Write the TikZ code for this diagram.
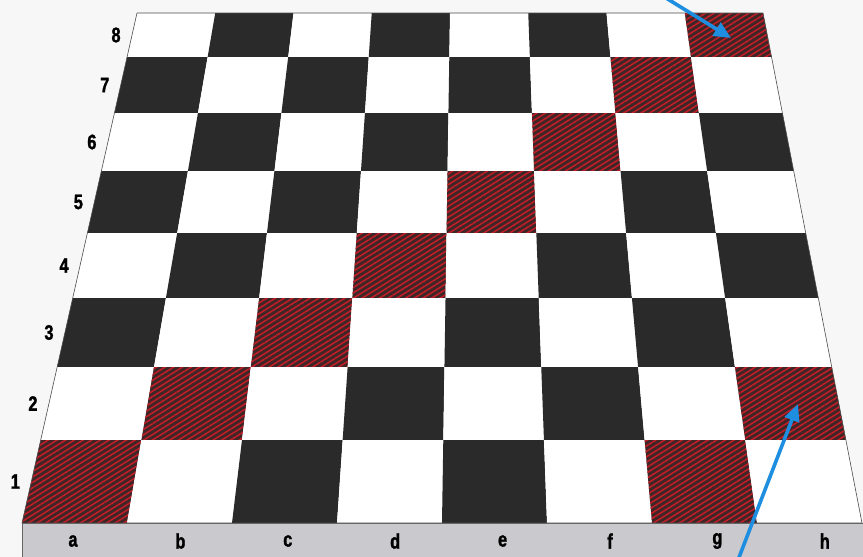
\documentclass[tikz,border=0pt]{standalone}
\usepackage{fontspec}
\newfontfamily\boardfont{Liberation Sans Bold}[FakeStretch=0.78, FakeBold=1.4]
\usetikzlibrary{arrows.meta, patterns.meta}

\definecolor{boarddark}{HTML}{2A2A2A}
\definecolor{boardred}{HTML}{C01E28}
\definecolor{pointblue}{HTML}{1E8FE0}
\definecolor{stripgray}{HTML}{C9C9CE}

% rank boundaries (top to bottom) of the board in perspective
\def\rowlist{{13,57,113,171,233,298,367,440,523}}

\begin{document}
\begin{tikzpicture}[
    x=1pt, y=-1pt,
    font=\boardfont\fontsize{21}{21}\selectfont,
    lightsq/.style={fill=white},
    darksq/.style={fill=boarddark},
    hotsq/.style={fill=boarddark!90!red,
        postaction={pattern={Lines[angle=32, distance=4.6pt, line width=1.6pt]},
                    pattern color=boardred}},
    ranklabel/.style={text=black, inner sep=0pt},
    filelabel/.style={text=black, inner sep=0pt},
    pointer/.style={draw=pointblue, line width=3.6pt,
        -{Triangle[length=17pt, width=15pt]}},
]
\useasboundingbox (0,0) rectangle (863,557);
\fill[black!3] (0,0) rectangle (863,557);

% ---- Squares ----
\foreach \r in {0,...,7} {
  \pgfmathsetmacro\yt{\rowlist[\r]}
  \pgfmathsetmacro\yb{\rowlist[\r+1]}
  \pgfmathsetmacro\lt{137-(\yt-13)/510*115}
  \pgfmathsetmacro\rt{763+(\yt-13)/510*99}
  \pgfmathsetmacro\lb{137-(\yb-13)/510*115}
  \pgfmathsetmacro\rb{763+(\yb-13)/510*99}
  \foreach \c in {0,...,7} {
    \pgfmathsetmacro\xa{\lt+\c*(\rt-\lt)/8}
    \pgfmathsetmacro\xb{\lt+(\c+1)*(\rt-\lt)/8}
    \pgfmathsetmacro\xc{\lb+(\c+1)*(\rb-\lb)/8}
    \pgfmathsetmacro\xd{\lb+\c*(\rb-\lb)/8}
    \pgfmathtruncatemacro\isdark{mod(\r+\c,2)}
    \pgfmathtruncatemacro\diag{\r+\c}
    \def\sq{lightsq}
    \ifnum\isdark=1 \def\sq{darksq}\fi
    \ifnum\diag=7 \def\sq{hotsq}\fi
    \ifnum\diag=13 \def\sq{hotsq}\fi
    \path[\sq] (\xa,\yt) -- (\xb,\yt) -- (\xc,\yb) -- (\xd,\yb) -- cycle;
  }
}

% ---- Board outline and file strip ----
\draw[black!70, line width=0.6pt] (137,13) -- (763,13) -- (862,523) -- (22,523) -- cycle;
\fill[stripgray] (22,523) rectangle (863,557);
\draw[black!60, line width=0.5pt] (22,557) -- (22,523) -- (863,523);

% ---- Rank labels ----
\foreach \r in {0,...,7} {
  \pgfmathtruncatemacro\n{8-\r}
  \pgfmathsetmacro\yt{\rowlist[\r]}
  \pgfmathsetmacro\yb{\rowlist[\r+1]}
  \pgfmathsetmacro\ym{(\yt+\yb)/2}
  \pgfmathsetmacro\xm{137-(\ym-13)/510*115-16}
  \node[ranklabel] (rank\n) at (\xm,\ym) {\n};
}

% ---- File labels ----
\foreach \f [count=\i from 0] in {a,b,c,d,e,f,g,h}
  \node[filelabel] (file\f) at (73+107.4*\i,541) {\f};

% ---- Pointers ----
\coordinate (top tail) at (666,-2);
\coordinate (h8 spot) at (731,38);
\coordinate (bottom tail) at (738,560);
\coordinate (h2 spot) at (798,404);
\draw[pointer] (top tail) -- (h8 spot);
\draw[pointer] (bottom tail) -- (h2 spot);

\end{tikzpicture}
\end{document}
